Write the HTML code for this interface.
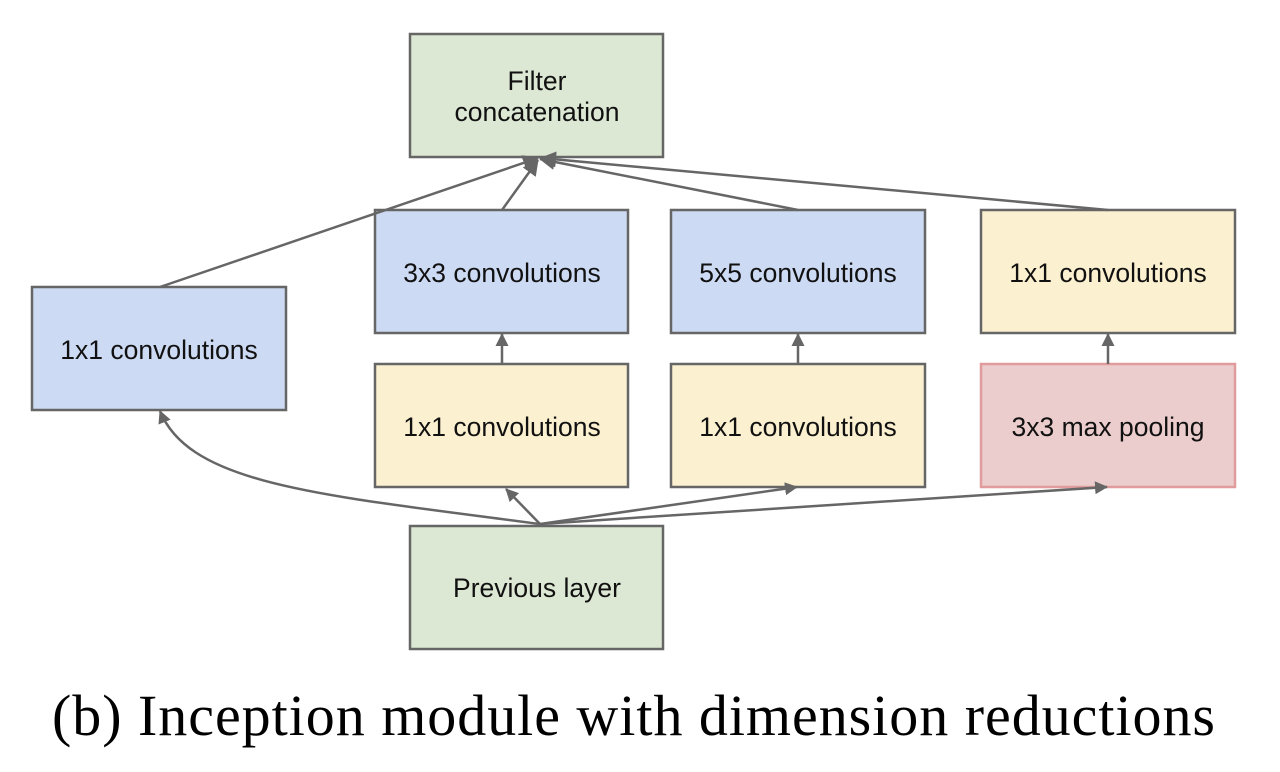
<!DOCTYPE html>
<html><head><meta charset="utf-8"><style>body{margin:0;background:#fff}svg{display:block}</style></head><body>
<svg width="1280" height="772" viewBox="0 0 1280 772" xmlns="http://www.w3.org/2000/svg">
<defs><marker id="a" markerWidth="13" markerHeight="13" refX="12" refY="6.5" orient="auto" markerUnits="userSpaceOnUse" viewBox="0 0 13 13"><path d="M0,0 L13,6.5 L0,13 z" fill="#666"/></marker>
<marker id="b" markerWidth="16" markerHeight="16" refX="15" refY="8" orient="auto" markerUnits="userSpaceOnUse" viewBox="0 0 16 16"><path d="M0,0 L16,8 L0,16 z" fill="#666"/></marker></defs>
<g stroke="#666" stroke-width="2.5">
<rect x="410" y="34" width="253" height="123" fill="#dde8d4"/>
<rect x="32" y="287" width="254" height="123" fill="#cddaf3"/>
<rect x="375" y="210" width="253" height="123" fill="#cddaf3"/>
<rect x="671" y="210" width="254" height="123" fill="#cddaf3"/>
<rect x="981" y="210" width="254" height="123" fill="#fbf0cf"/>
<rect x="375" y="364" width="253" height="123" fill="#fbf0cf"/>
<rect x="671" y="364" width="254" height="123" fill="#fbf0cf"/>
<rect x="981" y="364" width="254" height="123" fill="#eccdcd" stroke="#e09c9c"/>
<rect x="410" y="526" width="253" height="123" fill="#dde8d4"/>
</g>
<g stroke="#666" stroke-width="2.5" fill="none">
<path d="M160,287 L538,158" marker-end="url(#b)"/>
<path d="M502,210 L538,160" marker-end="url(#b)"/>
<path d="M798,210 L540,159" marker-end="url(#b)"/>
<path d="M1108,210 L541,158" marker-end="url(#b)"/>
<path d="M502,364 L502,334" marker-end="url(#a)"/>
<path d="M798,364 L798,334" marker-end="url(#a)"/>
<path d="M1108,364 L1108,334" marker-end="url(#a)"/>
<path d="M540,524 C 320,495 190,485 160,411" marker-end="url(#a)"/>
<path d="M540,524 L506,489" marker-end="url(#a)"/>
<path d="M540,524 L797,487" marker-end="url(#a)"/>
<path d="M540,524 L1107,487" marker-end="url(#a)"/>
</g>
<g font-family="Liberation Sans, sans-serif" font-size="26.5" text-anchor="middle" fill="#111">
<text x="537" y="90">Filter</text>
<text x="537" y="121">concatenation</text>
<text x="159" y="359">1x1 convolutions</text>
<text x="502" y="282">3x3 convolutions</text>
<text x="798" y="282">5x5 convolutions</text>
<text x="1108" y="282">1x1 convolutions</text>
<text x="502" y="436">1x1 convolutions</text>
<text x="798" y="436">1x1 convolutions</text>
<text x="1108" y="436">3x3 max pooling</text>
<text x="537" y="597">Previous layer</text>
</g>
<text x="52" y="735" font-family="Liberation Serif, serif" font-size="58" textLength="1163" lengthAdjust="spacing" fill="#000">(b)  Inception module with dimension reductions</text>
</svg>
</body></html>
